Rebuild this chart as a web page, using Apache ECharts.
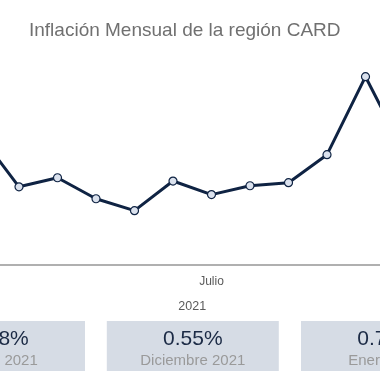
<!DOCTYPE html>
<html>
<head>
<meta charset="utf-8">
<script src="https://cdn.jsdelivr.net/npm/echarts@6/dist/echarts.min.js"></script>
<style>
html,body{margin:0;padding:0;background:#fff;overflow:hidden;width:380px;height:380px;}
#c{width:463px;height:380px;margin-left:-39px;}
</style>
</head>
<body>
<div id="c"></div>
<script>
var months = ['Enero','Febrero','Marzo','Abril','Mayo','Junio','Julio','Agosto','Septiembre','Octubre','Noviembre','Diciembre'];
var years = ['2021'];
var inflation = [0.627, 0.380, 0.424, 0.322, 0.264, 0.408, 0.342, 0.385, 0.400, 0.536, 0.915, 0.55];
var shownMonthLabels = ['Julio'];
var cardValues = ['0.18%', '0.55%', '0.72%'];
var cardLabels = ['Enero 2021', 'Diciembre 2021', 'Enero 2022'];
var titleText = 'Inflación Mensual de la región CARD';

var OX = 39; // page offset of the chart canvas
var chart = echarts.init(document.getElementById('c'), null, {renderer:'canvas'});

var cardCenters = [-1, 192.8, 387];
var cardW = 172, cardTop = 321, cardH = 50;
var graphics = [];
cardValues.forEach(function(v, i){
  var cx = cardCenters[i] + OX;
  graphics.push({type:'rect', silent:true, shape:{x:cx-cardW/2, y:cardTop, width:cardW, height:cardH}, style:{fill:'#d6dce5'}, z:1});
  graphics.push({type:'text', silent:true, x:cx, y:339, style:{text:v, fill:'#1b2a45', font:'21px "Liberation Sans", sans-serif', textAlign:'center', textVerticalAlign:'middle'}, z:2});
  graphics.push({type:'text', silent:true, x:cx, y:361, style:{text:cardLabels[i], fill:'#9a9a9a', font:'15px "Liberation Sans", sans-serif', textAlign:'center', textVerticalAlign:'middle'}, z:2});
});

chart.setOption({
  animation:false,
  backgroundColor:'#ffffff',
  title:{
    text:titleText, left:24+OX, top:16,
    textStyle:{fontFamily:'Liberation Sans', fontSize:19, fontWeight:'normal', color:'#707070'}
  },
  grid:{left:0.25, right:0.75, top:59.2, bottom:115, containLabel:false},
  xAxis:[{
    type:'category', data:months, boundaryGap:true,
    axisLine:{show:true, lineStyle:{color:'#b0b0b0', width:2}},
    axisTick:{show:false},
    axisLabel:{
      interval:function(idx, val){ return shownMonthLabels.indexOf(val) >= 0; },
      color:'#5a5a5a', fontSize:12, fontFamily:'Liberation Sans', margin:11
    }
  },{
    type:'category', data:years, boundaryGap:true, position:'bottom',
    axisLine:{show:false}, axisTick:{show:false},
    axisLabel:{color:'#5a5a5a', fontSize:12.5, fontFamily:'Liberation Sans', margin:35}
  }],
  yAxis:{type:'value', min:0, max:1, show:false, splitLine:{show:false}},
  series:[{
    type:'line', data:inflation, xAxisIndex:0,
    lineStyle:{color:'#0f2343', width:3},
    symbol:'circle', symbolSize:8,
    itemStyle:{color:'#dbe2ee', borderColor:'#0f2343', borderWidth:1.2},
    z:3
  }],
  graphic:graphics
});
</script>
</body>
</html>
